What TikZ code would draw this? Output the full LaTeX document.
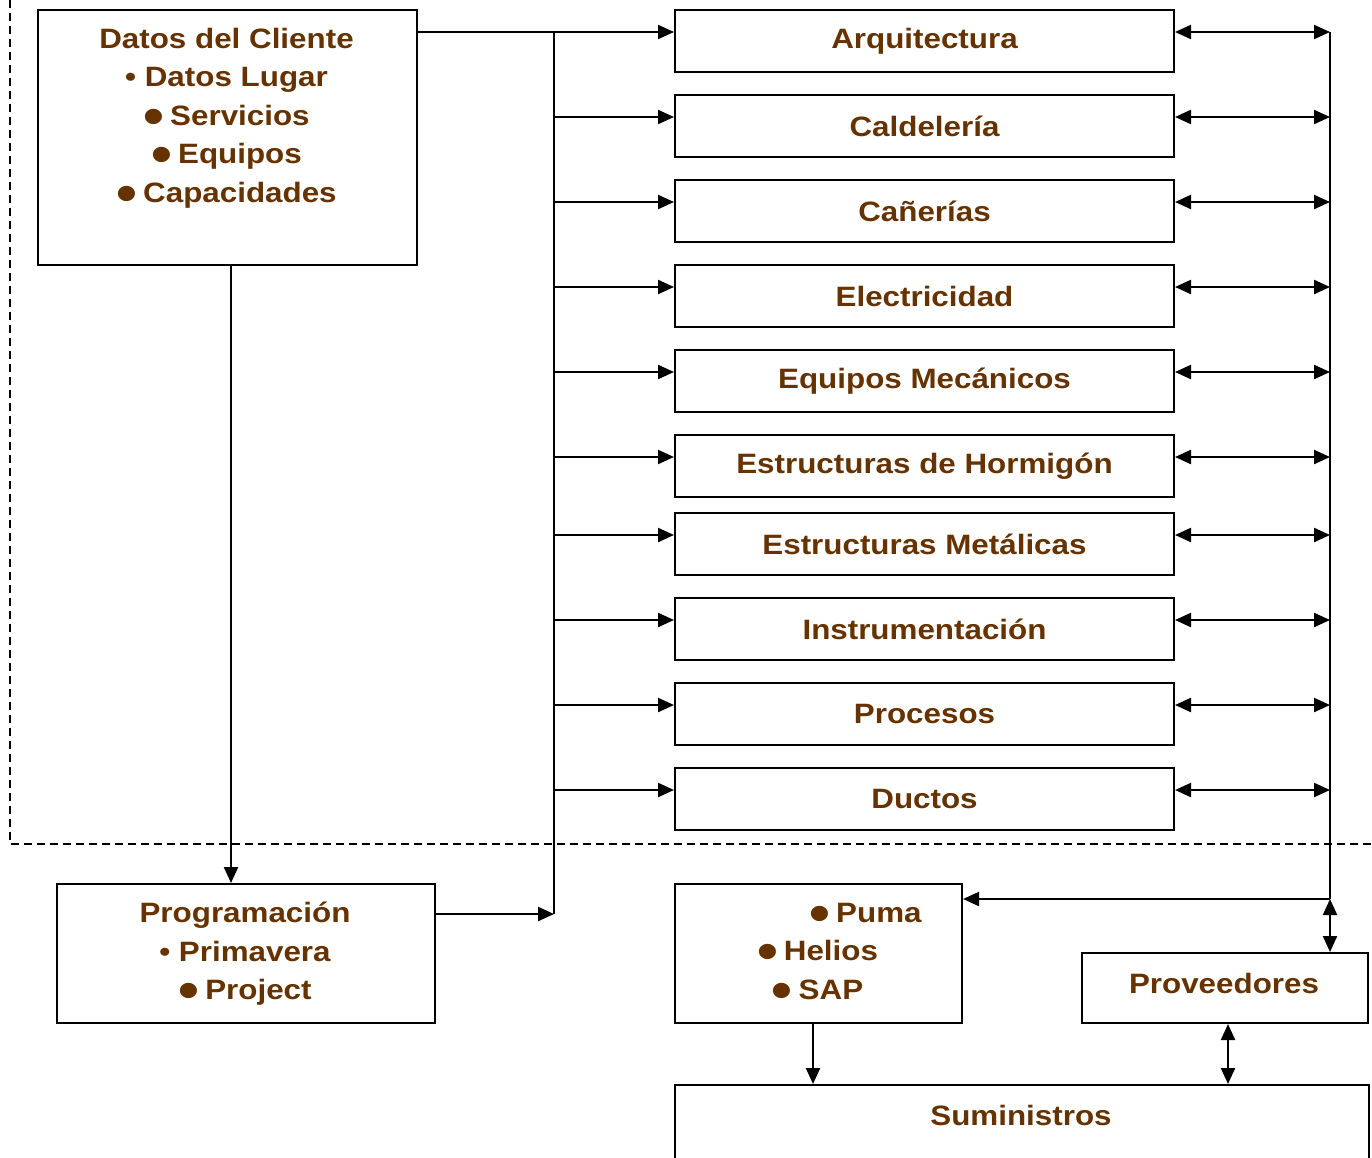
\documentclass[tikz,border=0pt]{standalone}
\usepackage{fontspec}
\setmainfont[FakeStretch=1.12]{Liberation Sans}
\usetikzlibrary{arrows.meta,calc}
\definecolor{brn}{RGB}{102,51,0}
\newcommand{\bigbul}{\smash{\raisebox{-9pt}{\scalebox{1.9}{•}}}\hspace{6pt}}
\tikzset{
  txtstyle/.style={font=\fontsize{28}{38.5}\selectfont\bfseries, text=brn, align=center, inner sep=0pt},
  boxonly/.style={draw, line width=2pt, rectangle, inner sep=0pt, anchor=north west},
  rbox/.style={boxonly, txtstyle, minimum width=499pt, minimum height=62pt},
  ln/.style={line width=2.2pt},
  arr/.style={ln, -{Triangle[length=16pt,width=14pt]}},
  darr/.style={ln, {Triangle[length=16pt,width=14pt]}-{Triangle[length=16pt,width=14pt]}},
  dashline/.style={line width=1.5pt, dash pattern=on 8pt off 5pt},
}
\begin{document}
\begin{tikzpicture}[x=1pt,y=-1pt]
\useasboundingbox (0,0) rectangle (1372,1157);
\clip (0,0) rectangle (1372,1157);
\fill[white] (0,0) rectangle (1372,1157);

% dashed region
\draw[dashline] (10,0) -- (10,844) -- (1372,844);

% Datos del Cliente
\node[boxonly, minimum width=379pt, minimum height=255pt] (datos) at (37,9) {};
\node[txtstyle, anchor=north] (datosT) at (226.5,28)
  {Datos del Cliente\\• Datos Lugar\\\bigbul Servicios\\\bigbul Equipos\\\bigbul Capacidades};

% right column boxes
\foreach \n/\t/\y in {arq/Arquitectura/9, cal/Caldelería/94, can/Cañerías/179,
  ele/Electricidad/264, eqm/Equipos Mecánicos/349, eho/Estructuras de Hormigón/434,
  eme/Estructuras Metálicas/512, ins/Instrumentación/597, pro/Procesos/682, duc/Ductos/767}{
  \node[rbox] (\n) at (674,\y) {\t};
}

% Programación
\node[boxonly, minimum width=378pt, minimum height=139pt] (prog) at (56,883) {};
\node[txtstyle, anchor=north] (progT) at (245,902)
  {Programación\\• Primavera\\\bigbul Project};

% Puma / Helios / SAP
\node[boxonly, minimum width=287pt, minimum height=139pt] (puma) at (674,883) {};
\node[txtstyle, anchor=north] (pumaT) at (817.5,903)
  {\hspace*{96pt}\bigbul Puma\\\bigbul Helios\\\bigbul SAP};

% Proveedores
\node[boxonly, minimum width=286pt, minimum height=70pt] (prov) at (1081,952) {};
\node[txtstyle, anchor=north] (provT) at (1224,973) {Proveedores};

% Suministros
\node[boxonly, minimum width=694pt, minimum height=120pt] (sum) at (674,1084) {};
\node[txtstyle, anchor=north] (sumT) at (1021,1105) {Suministros};

% buses
\coordinate (bus) at (554,32);
\coordinate (rbus) at (1330,32);

\foreach \n in {arq,cal,can,ele,eqm,eho,eme,ins,pro,duc}{
  \coordinate (\n-in) at ($(\n.north west)+(0,23)$);
  \draw[darr] (\n-in -| \n.east) -- (\n-in -| rbus);
}
\foreach \n in {cal,can,ele,eqm,eho,eme,ins,pro,duc}{
  \draw[arr] (\n-in -| bus) -- (\n-in);
}
\draw[arr] (arq-in -| datos.east) -- (arq-in);

% left bus and Programación
\coordinate (pin) at ($(prog.north east)+(0,31)$);
\draw[ln] (bus) -- (pin -| bus);
\draw[arr] (pin) -- (pin -| bus);
\coordinate (dp) at ($(datos.south west)+(194,0)$);
\draw[arr] (dp) -- (dp |- prog.north);

% right bus to Puma and Proveedores
\coordinate (pj) at ($(puma.north east)+(0,16)$);
\draw[ln] (rbus) -- (pj -| rbus);
\draw[arr] (pj -| rbus) -- (pj);
\draw[darr] (pj -| rbus) -- (rbus |- prov.north);

% to Suministros
\coordinate (ps) at ($(puma.south west)+(139,0)$);
\draw[arr] (ps) -- (ps |- sum.north);
\coordinate (qs) at ($(prov.south west)+(147,0)$);
\draw[darr] (qs) -- (qs |- sum.north);
\end{tikzpicture}
\end{document}
